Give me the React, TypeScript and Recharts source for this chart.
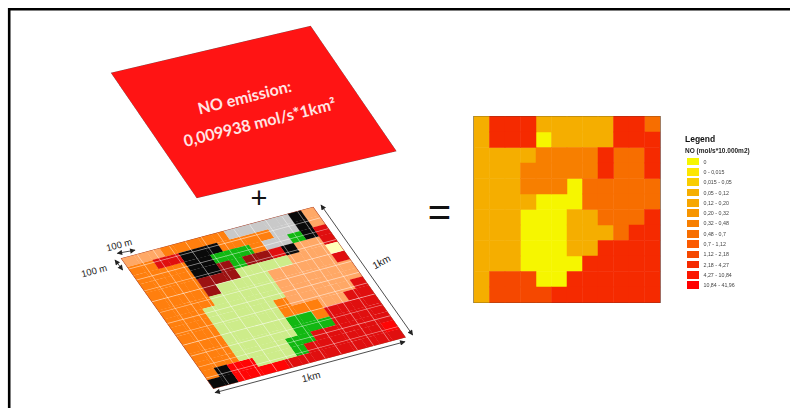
import React from "react";
import { ScatterChart, Scatter, XAxis, YAxis, Legend, ReferenceArea } from "recharts";

// ---- data ----
const legendClasses = ["0", "0 - 0,015", "0,015 - 0,05", "0,05 - 0,12", "0,12 - 0,20", "0,20 - 0,32", "0,32 - 0,48", "0,48 - 0,7", "0,7 - 1,12", "1,12 - 2,18", "2,18 - 4,27", "4,27 - 10,84", "10,84 - 41,96"];
const classCodes = ["Y", "b", "c", "A", "e", "f", "O", "D", "i", "E", "R", "l", "m"];
const classColors = ["#f6f600", "#fde600", "#f9cd00", "#f5ae00", "#f7a600", "#f79500", "#f77f00", "#f76e00", "#fb5a00", "#f54800", "#f52a00", "#fb1700", "#ff0000"];
const noRows = [
  "ARRRAAAAARRD",
  "ARRRYAAAARRR",
  "AAAAOOOORDDR",
  "AAAOOOOORDDR",
  "AAAOOOYDDDDD",
  "AAAAYYYDDDDD",
  "AAAYYYAADDDR",
  "AAAYYYAAADRR",
  "AAAYYYAARRRR",
  "AAAYYYYRRRRR",
  "AEEEYYRRRRRR",
  "AEEEERRRRRRR",
];
const landCodes = ["o", "l", "g", "k", "G", "r", "R", "d", "L", "y"];
const landColors = ["#ff7f0e", "#ffa866", "#c9c9c9", "#0a0a0a", "#12b812", "#e00f0f", "#ff0505", "#9c1212", "#cdec8a", "#ffffb8"];
const landRows = [
  "lllooooogggggkl",
  "oorrkkkooooggkl",
  "ooookkGGGoggGkr",
  "ooookkdGddrkllr",
  "oooodddLLLLllly",
  "oooodLLLLlllllr",
  "ooooLLLLLllllll",
  "oooLLLLLLllllll",
  "oooLLLLLolllllr",
  "oooLLLLLooollrr",
  "oooLLLLLGGorrrr",
  "oooLLLLLGGGrrrr",
  "oooLLLLGGrrrrrr",
  "okRRLLLGrrrrrrR",
  "kkRRRRrrrrrrrrr",
];
const gridTicks = [1.25, 2.5, 3.75, 5, 6.25, 7.5, 8.75, 10, 11.25, 12.5, 13.75];
const gridCentre = 7.5;
const emissionCell = [{ col: 0.5, row: 0.5 }];
const emissionTitle = "NO emission:";
const emissionValue = "0,009938 mol/s*1km²";
const legendTitle = "Legend";
const legendSubtitle = "NO (mol/s*10.000m2)";

const pointsFor = (rows: string[], code: string) => {
  const out: { col: number; row: number }[] = [];
  rows.forEach((r, j) => r.split("").forEach((c, i) => {
    if (c === code) out.push({ col: i + 0.5, row: j + 0.5 });
  }));
  return out;
};

const FONT = "Liberation Sans, Arial, sans-serif";

const cell = (w: number, h: number, stroke?: string, sw?: number) => (p: any) => (
  <rect x={p.cx - w / 2} y={p.cy - h / 2} width={w} height={h} fill={p.fill} stroke={stroke ?? "none"} strokeWidth={sw ?? 0} />
);

const LegendBox = ({ payload }: any) => (
  <div style={{ fontFamily: FONT, width: 90, filter: "blur(0.25px)" }}>
    <div style={{ fontWeight: 700, fontSize: 8.5, lineHeight: "10px", color: "#111", marginBottom: 3 }}>{legendTitle}</div>
    <div style={{ fontWeight: 700, fontSize: 6.5, lineHeight: "8px", color: "#222", whiteSpace: "nowrap", marginBottom: 2 }}>{legendSubtitle}</div>
    {(payload ?? []).map((e: any) => (
      <div key={e.value} style={{ display: "flex", alignItems: "center", height: 10.3 }}>
        <span style={{ display: "inline-block", width: 12, height: 7.6, marginLeft: 2, background: e.color }} />
        <span style={{ marginLeft: 4.5, fontSize: 5.3, color: "#444", whiteSpace: "nowrap" }}>{e.value}</span>
      </div>
    ))}
  </div>
);

const skew = (tl: number[], tr: number[], bl: number[], size: number) => ({
  position: "absolute" as const,
  left: 0,
  top: 0,
  transformOrigin: "0 0",
  transform: `matrix(${(tr[0] - tl[0]) / size},${(tr[1] - tl[1]) / size},${(bl[0] - tl[0]) / size},${(bl[1] - tl[1]) / size},${tl[0]},${tl[1]})`,
});

const Arrow = ({ a, b, id }: { a: number[]; b: number[]; id: string }) => (
  <line x1={a[0]} y1={a[1]} x2={b[0]} y2={b[1]} stroke="#3a3a3a" strokeWidth={0.9} markerStart={`url(#${id})`} markerEnd={`url(#${id})`} />
);

export default function App() {
  const SIZE = 300;
  const landCell = SIZE / 15 + 0.4;
  const verticals = gridTicks.map((t) => ({ col: t, row: gridCentre }));
  const horizontals = gridTicks.map((t) => ({ col: gridCentre, row: t }));
  return (
    <div style={{ position: "absolute", left: 0, top: 0, width: 790, height: 408, overflow: "hidden", background: "#fff" }}>
      {/* emission square */}
      <div style={skew([110.7, 72.7], [310.7, 25.7], [196.7, 198.3], SIZE)}>
        <ScatterChart width={SIZE} height={SIZE} margin={{ top: 0, right: 0, bottom: 0, left: 0 }}>
          <XAxis type="number" dataKey="col" domain={[0, 1]} hide />
          <YAxis type="number" dataKey="row" domain={[0, 1]} reversed hide />
          <Scatter data={emissionCell} fill="#ff1414" isAnimationActive={false} shape={cell(SIZE, SIZE, "#555", 1)} />
        </ScatterChart>
      </div>

      {/* land use grid */}
      <div style={skew([120.7, 258.3], [313.3, 206.7], [213.3, 389], SIZE)}>
        <ScatterChart width={SIZE} height={SIZE} margin={{ top: 0, right: 0, bottom: 0, left: 0 }}>
          <XAxis type="number" dataKey="col" domain={[0, 15]} hide />
          <YAxis type="number" dataKey="row" domain={[0, 15]} reversed hide />
          {landCodes.map((c, k) => (
            <Scatter key={c} data={pointsFor(landRows, c)} fill={landColors[k]} isAnimationActive={false} shape={cell(landCell, landCell)} />
          ))}
          <Scatter data={verticals} fill="#ffffff" isAnimationActive={false}
            shape={(p: any) => <line x1={p.cx} x2={p.cx} y1={p.cy - SIZE / 2} y2={p.cy + SIZE / 2} stroke="#ffffff" strokeOpacity={0.55} strokeWidth={1.2} />} />
          <Scatter data={horizontals} fill="#ffffff" isAnimationActive={false}
            shape={(p: any) => <line y1={p.cy} y2={p.cy} x1={p.cx - SIZE / 2} x2={p.cx + SIZE / 2} stroke="#ffffff" strokeOpacity={0.55} strokeWidth={1.5} />} />
          <Scatter data={[{ col: gridCentre, row: gridCentre }]} fill="none" isAnimationActive={false}
            shape={(p: any) => <rect x={p.cx - SIZE / 2} y={p.cy - SIZE / 2} width={SIZE} height={SIZE} fill="none" stroke="#a8402c" strokeWidth={1.6} />} />
        </ScatterChart>
      </div>

      {/* NO heat map with legend */}
      <div style={{ position: "absolute", left: 0, top: 0 }}>
        <ScatterChart width={790} height={408} margin={{ top: 116.5, right: 40, bottom: 105.5, left: 474 }}>
          <XAxis type="number" dataKey="col" domain={[0, 12]} hide />
          <YAxis type="number" dataKey="row" domain={[0, 12]} reversed hide />
          {classCodes.map((c, k) => (
            <Scatter key={c} name={legendClasses[k]} data={pointsFor(noRows, c)} fill={classColors[k]} isAnimationActive={false} shape={cell(16, 16)} />
          ))}
          <ReferenceArea x1={0} x2={12} y1={0} y2={12} fill="none" stroke="#333" strokeWidth={1.2} ifOverflow="visible" />
          <Legend layout="vertical" align="right" verticalAlign="top" width={90} itemSorter={null} content={<LegendBox />}
            wrapperStyle={{ left: 685, top: 133.5, right: "auto", width: 90 }} />
        </ScatterChart>
      </div>

      {/* annotations */}
      <svg width={790} height={408} style={{ position: "absolute", left: 0, top: 0 }}>
        <defs>
          <marker id="ah" viewBox="0 0 10 10" refX="9" refY="5" markerWidth="7" markerHeight="6" orient="auto-start-reverse">
            <path d="M0,0 L10,5 L0,10 Z" fill="#222" />
          </marker>
        </defs>
        <path d="M9.2,408 V9.2 H790" fill="none" stroke="#000" strokeWidth={2.6} />
        <g fontFamily="Lato, Liberation Sans, sans-serif" fontWeight={700} fill="#ffe4e4" textAnchor="middle" fontSize={16}>
          <text transform="translate(246,103) rotate(-14)">{emissionTitle}</text>
          <text transform="translate(261,128) rotate(-14)">{emissionValue}</text>
        </g>
        <text x={259} y={208} fontFamily={FONT} fontSize={29} textAnchor="middle" fill="#111">+</text>
        <text x={439.5} y={226} fontFamily={FONT} fontSize={40} textAnchor="middle" fill="#111">=</text>
        <Arrow a={[321, 205]} b={[412.7, 335]} id="ah" />
        <Arrow a={[215, 392.7]} b={[405, 341.7]} id="ah" />
        <Arrow a={[117.3, 253.3]} b={[135, 250.2]} id="ah" />
        <Arrow a={[115, 260]} b={[122.7, 270]} id="ah" />
        <g fontFamily={FONT} fontSize={10} fill="#222" textAnchor="middle">
          <text transform="translate(383,265) rotate(-28)">1km</text>
          <text transform="translate(312,380) rotate(-15)">1km</text>
          <text transform="translate(120,248) rotate(-15)" fontSize={9.5}>100 m</text>
          <text transform="translate(95,274) rotate(-15)" fontSize={9.5}>100 m</text>
        </g>
      </svg>
    </div>
  );
}
